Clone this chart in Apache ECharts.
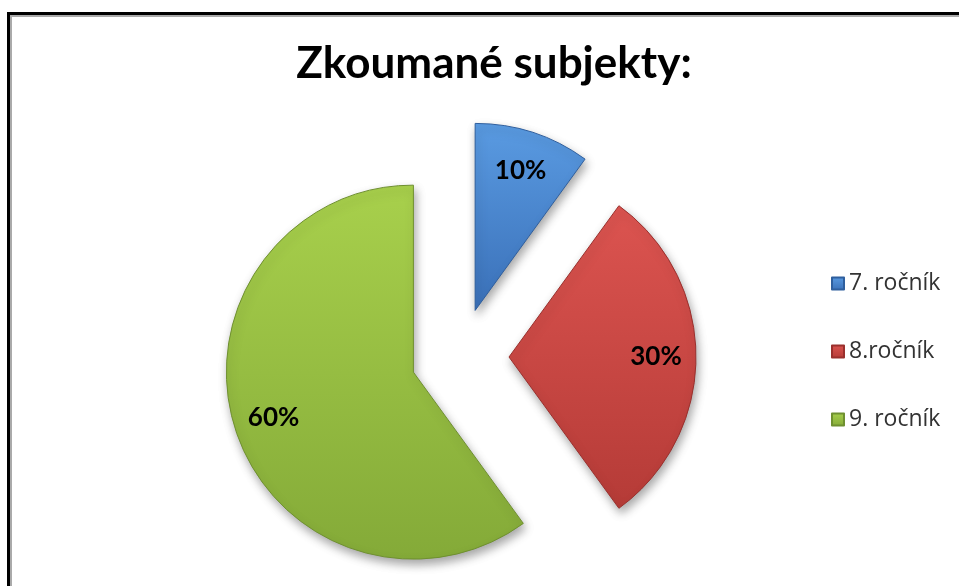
<!DOCTYPE html>
<html>
<head>
<meta charset="utf-8">
<script src="https://cdn.jsdelivr.net/npm/echarts@6/dist/echarts.min.js"></script>
<style>
  html, body { margin: 0; padding: 0; background: #fff; }
  #chart { width: 959px; height: 586px; }
</style>
</head>
<body>
<div id="chart"></div>
<script>
// rocniky a jejich podil
var categories = ['7. ročník', '8.ročník', '9. ročník'];
var shares = [10, 30, 60];
var topColors = ['#5a9be2', '#dc5450', '#a8d04c'];
var bottomColors = ['#3a70b8', '#b53b37', '#84aa38'];
var edgeColors = ['#2f5f9e', '#9a302d', '#6f9030'];

function sliceData(withStyle) {
	var list = [];
	for (var i = 0; i < categories.length; i++) {
		var item = {
			name : categories[i],
			value : shares[i],
			selected : true
		};
		if (withStyle) {
			item.itemStyle = {
				color : new echarts.graphic.LinearGradient(0, 0, 0, 1, [ {
					offset : 0,
					color : topColors[i]
				}, {
					offset : 1,
					color : bottomColors[i]
				} ]),
				borderColor : edgeColors[i],
				borderWidth : 1
			};
		}
		list.push(item);
	}
	return list;
}

var option = {
	backgroundColor : '#fff',
	animation : false,
	title : {
		text : 'Zkoumané subjekty:',
		left : 489,
		textAlign : 'center',
		top : 37,
		textStyle : {
			fontFamily : 'Lato',
			fontSize : 44,
			fontWeight : 'bold',
			color : '#000'
		}
	},
	legend : {
		orient : 'vertical',
		left : 826,
		top : 267,
		itemWidth : 12,
		itemHeight : 12,
		itemGap : 45,
		icon : 'rect',
		data : categories,
		textStyle : {
			fontFamily : 'Open Sans',
			fontSize : 23,
			color : '#333'
		}
	},
	graphic : [ {
		type : 'rect',
		shape : { x : 8.5, y : 13.5, width : 1000, height : 1000 },
		style : { fill : 'none', stroke : '#000', lineWidth : 3 },
		silent : true
	}, {
		type : 'rect',
		shape : { x : 11, y : 16, width : 1000, height : 1000 },
		style : { fill : 'none', stroke : '#aaa', lineWidth : 2 },
		silent : true
	} ],
	series : [ {
		type : 'pie',
		center : [ 460, 357 ],
		radius : [ 0, 187 ],
		startAngle : 90,
		clockwise : true,
		selectedMode : 'multiple',
		selectedOffset : 49,
		label : { show : false },
		labelLine : { show : false },
		emphasis : { disabled : true },
		itemStyle : {
			shadowBlur : 10,
			shadowOffsetX : 2,
			shadowOffsetY : 5,
			shadowColor : 'rgba(0,0,0,0.35)'
		},
		data : sliceData(true)
	}, {
		// jen popisky, posunute dal od stredu
		type : 'pie',
		center : [ 460, 357 ],
		radius : [ 101, 187 ],
		startAngle : 90,
		clockwise : true,
		selectedMode : 'multiple',
		selectedOffset : 49,
		silent : true,
		itemStyle : { color : 'rgba(0,0,0,0)' },
		label : {
			show : true,
			position : 'inside',
			formatter : '{c}%',
			fontFamily : 'Lato',
			fontSize : 26,
			fontWeight : 'bold',
			color : '#000'
		},
		labelLine : { show : false },
		emphasis : { disabled : true },
		data : sliceData(false)
	} ]
};

var myChart = echarts.init(document.getElementById('chart'));
myChart.setOption(option);
</script>
</body>
</html>
